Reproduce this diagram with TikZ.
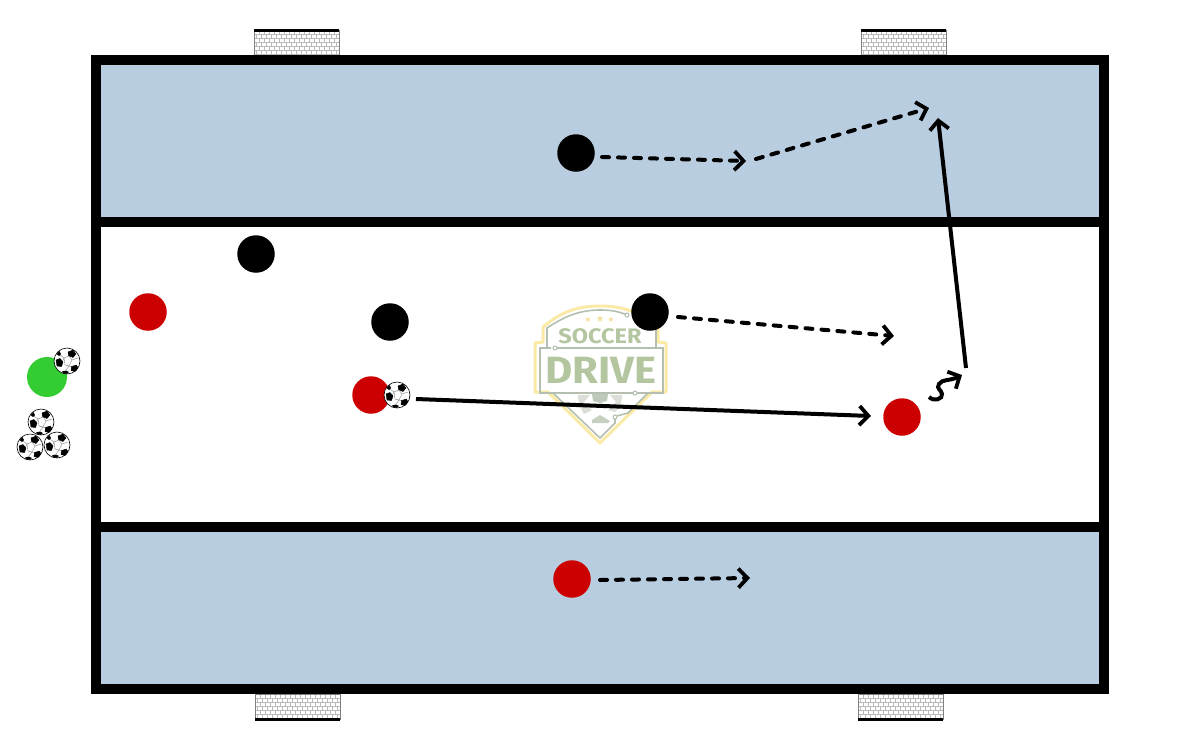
\documentclass[tikz,border=0pt]{standalone}
\usepackage{fontspec}
\setmainfont{Fira Sans}
\newfontfamily\starfont{DejaVu Sans}
\usetikzlibrary{arrows.meta}
\definecolor{zonefill}{HTML}{B8CDE0}
\definecolor{redp}{HTML}{CC0000}
\definecolor{greenp}{HTML}{33CC33}
\definecolor{logoY}{HTML}{FBE9A6}
\definecolor{logoS}{HTML}{F5E09A}
\definecolor{logoG}{HTML}{B3C6A0}
\definecolor{logoL}{HTML}{B4BFAF}
\tikzset{
  x=1pt,y=-1pt,
  player/.style={circle,minimum size=37.5pt,inner sep=0pt,outer sep=0pt},
  blackp/.style={player,fill=black},
  redplayer/.style={player,fill=redp},
  greenplayer/.style={player,minimum size=40pt,fill=greenp},
  wall/.style={draw=black,line width=10pt},
  barb/.style={-{Straight Barb[length=9pt,width=19pt,line width=3.8pt]}},
  run/.style={barb,line width=4pt,line cap=round,dash pattern=on 7pt off 9pt},
  pass/.style={barb,line width=4pt},
  logoline/.style={logoL,line width=1.6pt},
  logodot/.style={logoL,line width=1pt,fill=white},
}
\newcommand{\ball}[2]{%
  \begin{scope}[shift={(#1,#2)}]
    \fill[white] (0,0) circle (13);
    \draw[black,line width=.6pt] (0,0) circle (13);
    \draw[gray,line width=.4pt] (-3,-3)--(2,-5) (-3,-3)--(-5,1) (-3,-3)--(-7,-6) (2,5)--(5,6) (2,5)--(-1,9) (-3,-3)--(-2,4)--(2,5)--(5,-1)--(2,-5) (5,-1)--(11,-3);
    \fill[black,line join=round,draw=black,line width=.4pt] (1,-9)--(6,-11)--(9,-7)--(6,-3.5)--(1.5,-5.5)--cycle;
    \fill[black,line join=round,draw=black,line width=.4pt] (-11,-1)--(-7,-2.5)--(-4,1)--(-5.5,5.5)--(-10,5)--cycle;
    \fill[black] (-10.5,-7)--(-7.5,-10)--(-6,-7)--(-8,-5)--cycle;
    \fill[black,line join=round,draw=black,line width=.4pt] (4.5,5.5)--(9.5,4)--(11,7)--(8,10.5)--(4,9.5)--cycle;
    \fill[black] (-5,10.5)--(-1,9.5)--(2,11)--(0,12.8)--(-4,12.3)--cycle;
  \end{scope}}
\newcommand{\goalnet}[3]{% x, y, bar y
  \begin{scope}
    \clip (#1,#2) rectangle +(85,25);
    \foreach \r in {0,...,6}{
      \pgfmathsetmacro{\yy}{#2+\r*4}
      \pgfmathsetmacro{\off}{mod(\r,2)*2.5}
      \draw[gray!55,line width=.6pt] (#1,\yy) -- +(85,0);
      \foreach \c in {0,...,17}{
        \draw[gray!55,line width=.6pt] (#1+\off+\c*5,\yy) -- +(0,4);
      }
    }
  \end{scope}
  \draw[gray,line width=.8pt] (#1,#2) rectangle +(85,25);
  \draw[black,line width=3pt] (#1,#3) -- +(85,0);
}
\begin{document}
\begin{tikzpicture}
\useasboundingbox (0,0) rectangle (1200,750);
% goals
\goalnet{254}{30}{30}
\goalnet{861}{30}{30}
\goalnet{255}{694}{719}
\goalnet{858}{694}{719}
% zones
\fill[zonefill] (96,60) rectangle (1103,222);
\fill[zonefill] (96,527) rectangle (1103,689);
% logo
\draw[logoY,line width=3pt,line join=round] (600,306) .. controls (575,306) and (560,313) .. (543,327) -- (543,342) -- (535,343) -- (535,392) -- (548,392) -- (600,443) -- (652,392) -- (666,392) -- (666,343) -- (658,342) -- (658,327) .. controls (640,313) and (625,306) .. (600,306) -- cycle;
\draw[logoline] (547,347) -- (547,328) .. controls (565,316) and (580,310) .. (600,310) .. controls (610,310) and (618,311) .. (627,315);
\draw[logoline] (656,347) -- (656,330) -- (632,316);
\draw[logoline] (553,393) -- (600,438) -- (615,423) -- (615,417);
\draw[logoline] (648,393) -- (628,413) -- (617,416);
\draw[logoline] (555,348) -- (663,348) -- (663,393) -- (635,393);
\draw[logoline] (551,348) -- (540,348) -- (540,393) -- (633,393);
\draw[logodot] (555,348) circle (2);
\draw[logodot] (635,393) circle (2);
\draw[logodot] (627,315) circle (2);
\draw[logodot] (615,417) circle (2);
\node[inner sep=0pt,text=logoG,font=\bfseries\fontsize{21}{21}\selectfont] (logoa) at (600,336) {\scalebox{1.12}[1]{SOCCER}};
\node[inner sep=0pt,text=logoG,font=\bfseries\fontsize{38}{38}\selectfont] (logob) at (601,370) {\scalebox{1.1}[1]{DRIVE}};
\node[inner sep=0pt,text=logoS,font=\starfont\fontsize{8}{8}\selectfont] (stara) at (588,320) {★};
\node[inner sep=0pt,text=logoS,font=\starfont\fontsize{10}{10}\selectfont] (starb) at (600,319) {★};
\node[inner sep=0pt,text=logoS,font=\starfont\fontsize{8}{8}\selectfont] (starc) at (611,320) {★};
\fill[logoL!85] (592,394) -- (608,394) -- (607,401) -- (600,403) -- (593,401) -- cycle;
\fill[logoL!50] (578,395) -- (590,395) -- (584,402) -- (592,410) -- (584,414) .. controls (580,408) and (578,402) .. (578,395) -- cycle;
\fill[logoL!50] (622,395) -- (610,395) -- (616,402) -- (608,410) -- (615,412) .. controls (620,408) and (622,402) .. (622,395) -- cycle;
\fill[logoL!75] (592,420) -- (600,415) -- (610,421) -- (608,423) -- (592,423) -- cycle;
% walls
\draw[wall] (96,60) rectangle (1103.5,689);
\draw[wall] (96,222) -- (1103.5,222);
\draw[wall] (96,527) -- (1103.5,527);
% players
\node[blackp] (b1) at (576,153) {};
\node[blackp] (b2) at (256,254) {};
\node[blackp] (b3) at (390,322) {};
\node[blackp] (b4) at (650,312) {};
\node[redplayer] (r1) at (148,312) {};
\node[redplayer] (r2) at (371,395) {};
\node[redplayer] (r3) at (902,417) {};
\node[redplayer] (r4) at (572,579) {};
\node[greenplayer] (g) at (47,377) {};
% balls
\ball{67}{361}
\ball{41}{422}
\ball{30}{447}
\ball{57}{445}
\ball{397}{395}
% connectors
\coordinate (a1s) at (602,157);
\coordinate (a1e) at (746,161);
\coordinate (a2s) at (756,159);
\coordinate (a2e) at (929,108);
\coordinate (a3s) at (966,368);
\coordinate (a3e) at (938,118);
\coordinate (a4s) at (678,317);
\coordinate (a4e) at (894,336);
\coordinate (a5s) at (416,399);
\coordinate (a5e) at (871,416);
\coordinate (a6s) at (600,580);
\coordinate (a6e) at (750,578);
\coordinate (a7s) at (929,397);
\coordinate (a7e) at (962,375);
\draw[run] (a1s) -- (a1e);
\draw[run] (a2s) -- (a2e);
\draw[pass] (a3s) -- (a3e);
\draw[run] (a4s) -- (a4e);
\draw[pass] (a5s) -- (a5e);
\draw[run] (a6s) -- (a6e);
\draw[barb,line width=4pt] (a7s) .. controls (934,402) and (943,399) .. (942,394) .. controls (941,389) and (936,389) .. (939,384) .. controls (942,379) and (950,381) .. (a7e);
\end{tikzpicture}
\end{document}
